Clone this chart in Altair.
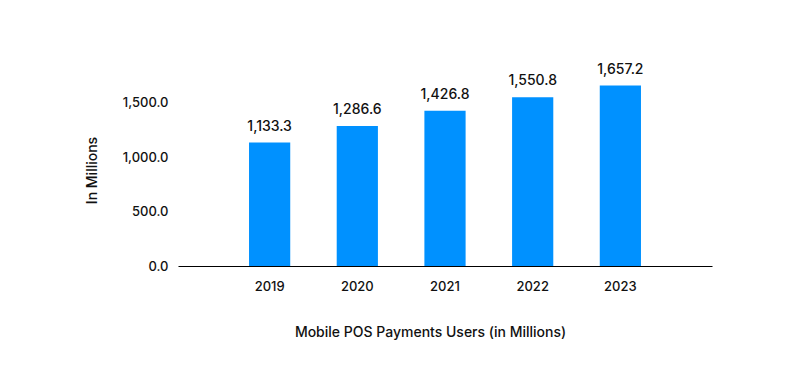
import altair as alt
import pandas as pd

years = ["2019", "2020", "2021", "2022", "2023"]
users = [1133.3, 1286.6, 1426.8, 1550.8, 1657.2]

df = pd.DataFrame({"year": years, "users": users})

FONT = "Inter"
BAR = "#0091FF"

base = alt.Chart(df).encode(
    x=alt.X(
        "year:N",
        sort=years,
        scale=alt.Scale(paddingInner=0.53, paddingOuter=0.81),
        axis=alt.Axis(
            title="Mobile POS Payments Users (in Millions)",
            labelAngle=0,
            ticks=False,
            domainColor="#000000",
            domainWidth=1.2,
            labelPadding=14,
            labelFont=FONT,
            labelFontSize=13,
            labelFontWeight=500,
            labelColor="#111111",
            titleFont=FONT,
            titleFontSize=14,
            titleFontWeight=500,
            titleColor="#111111",
            titleX=252,
            titleY=66,
            titleBaseline="middle",
            titleAlign="center",
        ),
    ),
    y=alt.Y(
        "users:Q",
        scale=alt.Scale(domain=[0, 1800]),
        axis=alt.Axis(
            title="In Millions",
            values=[0, 500, 1000, 1500],
            format=",.1f",
            grid=False,
            ticks=False,
            domain=False,
            labelPadding=10,
            labelFont=FONT,
            labelFontSize=13,
            labelFontWeight=500,
            labelColor="#111111",
            titleFont=FONT,
            titleFontSize=14,
            titleFontWeight=500,
            titleColor="#111111",
            titleAngle=-90,
            titleX=-86,
            titleY=100,
            titleAlign="center",
            titleBaseline="middle",
        ),
    ),
)

bars = base.mark_bar(color=BAR)
labels = base.mark_text(
    baseline="bottom", dy=-9, font=FONT, fontSize=14, fontWeight=500, color="#111111"
).encode(text=alt.Text("users:Q", format=",.1f"))

chart = (
    alt.layer(bars, labels)
    .properties(
        width=534,
        height=196,
        autosize=alt.AutoSizeParams(type="none"),
        padding={"left": 170, "top": 62, "right": 80, "bottom": 100},
        view=alt.ViewBackground(stroke="white", strokeWidth=0, strokeOpacity=0),
        background="white",
    )
)

chart.save("out.html", embed_options={"renderer": "svg", "actions": False})
